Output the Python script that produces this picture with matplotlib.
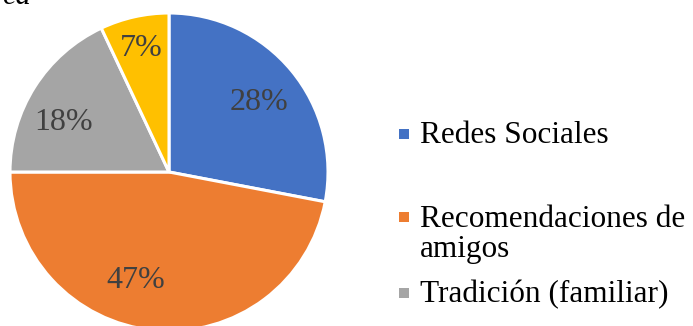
import matplotlib
matplotlib.use("Agg")
import matplotlib.pyplot as plt
from matplotlib.patches import Rectangle

# Data
categories = ["Redes Sociales", "Recomendaciones de\namigos", "Tradición (familiar)", "Otros"]
values = [28, 47, 18, 7]
colors = ["#4472C4", "#ED7D31", "#A5A5A5", "#FFC000"]

W, H = 693, 326
fig = plt.figure(figsize=(W / 100, H / 100), dpi=100)
plt.rcParams["font.family"] = ["Liberation Serif", "DejaVu Serif"]

# Pie axes: centre (169, 172) px, radius 159 px
cx, cy, r = 169, 172, 159
ax = fig.add_axes([(cx - r) / W, (H - cy - r) / H, 2 * r / W, 2 * r / H])

wedges, _, autotexts = ax.pie(
    values, colors=colors, startangle=90, counterclock=False,
    autopct=lambda p: f"{p:.0f}%",
    wedgeprops=dict(edgecolor="white", linewidth=2.2),
    textprops=dict(fontsize=23, color="#404040"),
)
ax.set_xlim(-1, 1)
ax.set_ylim(-1, 1)

# Label placement (pixel positions of label centres)
label_px = [(259, 102), (136, 280), (63.5, 122), (141, 48)]
for t, (px, py) in zip(autotexts, label_px):
    t.set_position(((px - cx) / r, (cy - py) / r))
    t.set_va("center")
    t.set_ha("center")

# Legend drawn as square swatches with text (rows that fall inside the canvas);
# the text baseline refers to the last line of each entry
swatch_rows = [134, 217, 293]
baselines = [143, 257, 302]
for name, col, yc, yb in zip(categories, colors, swatch_rows, baselines):
    fig.patches.append(Rectangle((399 / W, (H - yc - 5) / H), 10 / W, 10 / H,
                                 transform=fig.transFigure, facecolor=col,
                                 edgecolor="none"))
    fig.text(420 / W, (H - yb) / H, name, fontsize=22.5, color="black",
             ha="left", va="baseline", linespacing=1.05)

# Caption fragment at the top edge
fig.text(2 / W, (H - 4) / H, "ca", fontsize=22, style="italic",
         color="black", ha="left", va="baseline")

fig.savefig("out.png", dpi=100)
